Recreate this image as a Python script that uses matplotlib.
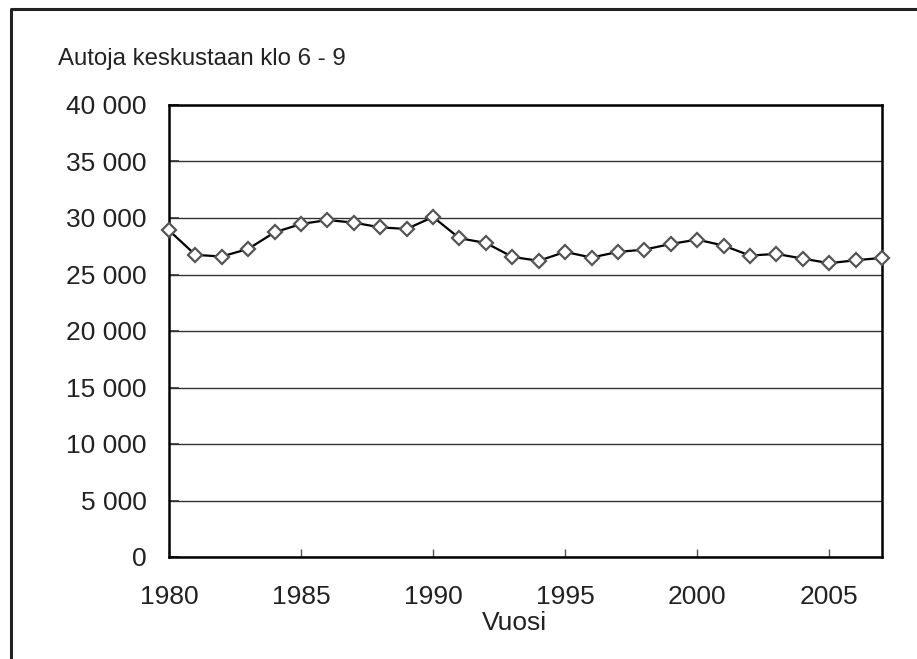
import matplotlib
matplotlib.use("Agg")
import matplotlib.pyplot as plt
from matplotlib.ticker import FuncFormatter, MultipleLocator
from matplotlib.lines import Line2D

years = list(range(1980, 2008))
cars = [28900, 26740, 26590, 27270, 28730, 29470, 29820, 29590, 29170, 29030,
        30090, 28210, 27790, 26560, 26210, 27000, 26500, 27000, 27200, 27700,
        28090, 27560, 26680, 26820, 26410, 26000, 26260, 26470]
title = "Autoja keskustaan klo 6 - 9"
xlabel = "Vuosi"

plt.rcParams['font.family'] = ['Liberation Sans', 'DejaVu Sans']

W, H = 917, 659
fig = plt.figure(figsize=(W / 100, H / 100), dpi=100)
ax = fig.add_axes([169 / W, 1 - 557 / H, (882 - 169) / W, (557 - 105) / H])

ax.plot(years, cars, color='black', lw=1.6, marker='D', markersize=7.5,
        markerfacecolor='white', markeredgecolor='#555555', markeredgewidth=1.6,
        zorder=3, clip_on=False)

ax.set_xlim(1980, 2007)
ax.set_ylim(0, 40000)
ax.yaxis.set_major_locator(MultipleLocator(5000))
ax.xaxis.set_major_locator(MultipleLocator(5))
ax.yaxis.set_major_formatter(FuncFormatter(lambda v, p: f"{int(v):,}".replace(",", " ")))
ax.grid(axis='y', color='#333333', lw=1.0)
ax.set_axisbelow(True)
for s in ax.spines.values():
    s.set_color('black')
    s.set_linewidth(1.8)
ax.tick_params(axis='x', direction='in', length=6, width=1, labelsize=19, pad=20, colors='#555555', labelcolor='#222222')
ax.tick_params(axis='y', direction='in', length=7, width=1.2, labelsize=19, pad=16, colors='#333333', labelcolor='#222222')

fig.text(58 / W, 1 - 65 / H, title, fontsize=17.3, color='#222222', va='baseline', ha='left')
fig.text(514 / W, 1 - 630 / H, xlabel, fontsize=19, color='#222222', va='baseline', ha='center')

fig.add_artist(Line2D([11 / W, 11 / W, 1.0], [0.0, 1 - 9 / H, 1 - 9 / H],
                      transform=fig.transFigure, color='#222222', lw=2.2))

fig.savefig("out.png", dpi=100)
